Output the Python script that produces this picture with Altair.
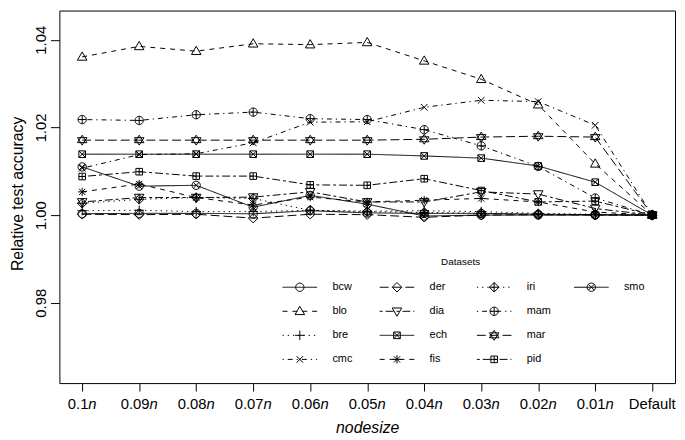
import math
import altair as alt
import pandas as pd

# ---------------- data ----------------
x_labels = ["0.1n", "0.09n", "0.08n", "0.07n", "0.06n", "0.05n",
            "0.04n", "0.03n", "0.02n", "0.01n", "Default"]
series_names = ["bcw", "blo", "bre", "cmc", "der", "dia", "ech",
                "fis", "iri", "mam", "mar", "pid", "smo"]

bcw = [1.0003, 1.0004, 1.0004, 1.0003, 1.0010, 1.0005, 1.0004, 1.0004, 1.0002, 1.0001, 1.0]
blo = [1.0361, 1.0385, 1.0374, 1.0391, 1.0389, 1.0394, 1.0352, 1.0310, 1.0252, 1.0117, 1.0]
bre = [1.0010, 1.0011, 1.0008, 1.0008, 1.0011, 1.0009, 1.0010, 1.0008, 1.0004, 1.0002, 1.0]
cmc = [1.0107, 1.0138, 1.0140, 1.0165, 1.0212, 1.0213, 1.0246, 1.0262, 1.0259, 1.0205, 1.0]
der = [1.0002, 1.0001, 1.0002, 0.9993, 1.0002, 1.0001, 0.9995, 1.0000, 1.0001, 1.0000, 1.0]
dia = [1.0030, 1.0040, 1.0040, 1.0041, 1.0053, 1.0030, 1.0030, 1.0053, 1.0048, 1.0015, 1.0]
ech = [1.0139, 1.0139, 1.0139, 1.0139, 1.0139, 1.0139, 1.0135, 1.0130, 1.0112, 1.0075, 1.0]
fis = [1.0053, 1.0071, 1.0040, 1.0023, 1.0041, 1.0030, 1.0034, 1.0038, 1.0030, 1.0007, 1.0]
iri = [1.0027, 1.0036, 1.0040, 1.0038, 1.0011, 1.0008, 1.0006, 1.0004, 1.0002, 1.0001, 1.0]
mam = [1.0218, 1.0216, 1.0229, 1.0235, 1.0220, 1.0218, 1.0195, 1.0158, 1.0111, 1.0039, 1.0]
mar = [1.0171, 1.0171, 1.0171, 1.0171, 1.0171, 1.0171, 1.0173, 1.0178, 1.0180, 1.0178, 1.0]
pid = [1.0088, 1.0099, 1.0089, 1.0089, 1.0069, 1.0068, 1.0083, 1.0056, 1.0030, 1.0032, 1.0]
smo = [1.0110, 1.0066, 1.0068, 1.0018, 1.0045, 1.0025, 0.9998, 1.0000, 1.0000, 1.0000, 1.0]

y_ticks = [0.98, 1.00, 1.02, 1.04]
legend_title = "Datasets"
x_title = "nodesize"
y_title = "Relative test accuracy"

series_values = [bcw, blo, bre, cmc, der, dia, ech, fis, iri, mam, mar, pid, smo]

rows = []
for name, vals in zip(series_names, series_values):
    for i, v in enumerate(vals):
        rows.append({"series": name, "idx": i + 1, "value": v})
df = pd.DataFrame(rows)

# ---------------- styles ----------------
FONT = "Liberation Sans"
W, H = 623, 377
PX_PER_UNIT = W / 10.8


def poly_circle(r, n=28):
    pts = []
    for k in range(n):
        a = 2 * math.pi * k / n
        pts.append(f"{r*math.cos(a):.3f},{r*math.sin(a):.3f}")
    return "M" + "L".join(pts) + "Z"


C = poly_circle(1.0)
SQ = "M-0.8,-0.8L0.8,-0.8L0.8,0.8L-0.8,0.8Z"
DIAM = "M0,-1.15L1.15,0L0,1.15L-1.15,0Z"
pch = [
    C,                                                        # 1 circle
    "M0,-1.2L1.15,0.8L-1.15,0.8Z",                            # 2 triangle up
    "M-1.15,0L1.15,0M0,-1.15L0,1.15",                         # 3 plus
    "M-0.8,-0.8L0.8,0.8M0.8,-0.8L-0.8,0.8",                   # 4 x
    DIAM,                                                     # 5 diamond
    "M0,1.2L1.15,-0.8L-1.15,-0.8Z",                           # 6 triangle down
    SQ + "M-0.8,-0.8L0.8,0.8M0.8,-0.8L-0.8,0.8",              # 7 square x
    "M-1,0L1,0M0,-1L0,1M-0.75,-0.75L0.75,0.75M0.75,-0.75L-0.75,0.75",  # 8 asterisk
    DIAM + "M-1.15,0L1.15,0M0,-1.15L0,1.15",                  # 9 diamond plus
    C + "M-1,0L1,0M0,-1L0,1",                                 # 10 circle plus
    "M0,-1.2L1.15,0.6L-1.15,0.6ZM0,1.2L1.15,-0.6L-1.15,-0.6Z",  # 11 triangles
    SQ + "M-0.8,0L0.8,0M0,-0.8L0,0.8",                        # 12 square plus
    C + "M-0.71,-0.71L0.71,0.71M0.71,-0.71L-0.71,0.71",       # 13 circle x
]
lty = [[1, 0], [5, 5], [1.3, 4], [1.3, 4, 5, 4], [9, 4], [3, 3, 8, 3]]
dashes = [lty[i % 6] for i in range(len(series_names))]

dash_enc = alt.StrokeDash("series:N", scale=alt.Scale(domain=series_names, range=dashes), legend=None)
shape_enc = alt.Shape("series:N", scale=alt.Scale(domain=series_names, range=pch), legend=None)

xscale = alt.Scale(domain=[0.6, 11.4], nice=False, zero=False)
ydom = [1 - 170 / 4435, 1 + 207 / 4435]
yscale = alt.Scale(domain=ydom, nice=False, zero=False)

x_axis = alt.Axis(values=list(range(1, 12)), labels=False, tickSize=8, tickColor="black",
                  tickWidth=1, domain=False, grid=False, title=x_title, titleFont=FONT,
                  titleFontSize=16, titleFontStyle="italic", titleFontWeight="normal",
                  titleColor="black", titleBaseline="alphabetic", titleY=50)
y_axis = alt.Axis(values=y_ticks, format=".2f", labelAngle=270, labelAlign="center",
                  labelBaseline="alphabetic", labelPadding=5, labelFont=FONT, labelFontSize=15,
                  labelColor="black", tickSize=9, tickColor="black", tickWidth=1,
                  domain=False, grid=False, title=y_title, titleFont=FONT, titleFontSize=16,
                  titleFontWeight="normal", titleColor="black", titleAngle=270,
                  titleX=-37, titleY=185, titleBaseline="alphabetic", titleAlign="center")

base = alt.Chart(df)
lines = base.mark_line(color="black", strokeWidth=1).encode(
    x=alt.X("idx:Q", scale=xscale, axis=x_axis),
    y=alt.Y("value:Q", scale=yscale, axis=y_axis),
    strokeDash=dash_enc,
    detail="series:N",
)
points = base.mark_point(filled=False, color="black", size=70, strokeWidth=1, opacity=1).encode(
    x=alt.X("idx:Q", scale=xscale, axis=None),
    y=alt.Y("value:Q", scale=yscale, axis=None),
    shape=shape_enc,
)

# x tick labels: number in roman + italic n
cw = {"0": 8.34, "1": 8.34, "2": 8.34, "3": 8.34, "4": 8.34, "5": 8.34, "6": 8.34, "7": 8.34,
      "8": 8.34, "9": 8.34, ".": 4.17, "D": 10.83, "e": 8.34, "f": 4.17, "a": 8.34, "u": 8.34,
      "l": 3.33, "t": 4.17, "n": 8.34}
tick_rows = []
for i, lab in enumerate(x_labels):
    if lab.endswith("n"):
        num, nn = lab[:-1], "n"
    else:
        num, nn = lab, ""
    wnum = sum(cw.get(ch, 8.34) for ch in num)
    wn = cw["n"] if nn else 0
    edge = (wnum + wn) / 2 - wn
    tick_rows.append({"num": num, "nn": nn, "xe": i + 1 + edge / PX_PER_UNIT})
tick_df = pd.DataFrame(tick_rows)

tick_num = alt.Chart(tick_df).mark_text(align="right", baseline="alphabetic", font=FONT,
                                         fontSize=15, color="black").encode(
    x=alt.X("xe:Q", scale=xscale, axis=None), y=alt.value(403), text="num:N")
tick_n = alt.Chart(tick_df).transform_filter("datum.nn != ''").mark_text(
    align="left", baseline="alphabetic", font=FONT, fontSize=15, fontStyle="italic",
    color="black").encode(
    x=alt.X("xe:Q", scale=xscale, axis=None), y=alt.value(403), text="nn:N")

# legend (R style, column-major, 4 rows)
leg_df = pd.DataFrame({"series": series_names,
                       "col": [i // 4 for i in range(len(series_names))],
                       "row": [i % 4 for i in range(len(series_names))]})
lx = alt.X("col:Q", scale=alt.Scale(domain=[0, 3], range=[243.3, 538.3]), axis=None)
ly = alt.Y("row:Q", scale=alt.Scale(domain=[0, 3], range=[280, 353]), axis=None)
leg = alt.Chart(leg_df)
leg_rules = leg.mark_rule(color="black", strokeWidth=1, xOffset=-17.5, x2Offset=17.5).encode(
    x=lx, x2="col:Q", y=ly, strokeDash=dash_enc)
leg_pts = leg.mark_point(filled=False, color="black", size=70, strokeWidth=1, opacity=1).encode(
    x=lx, y=ly, shape=shape_enc)
leg_txt = leg.mark_text(align="left", baseline="middle", dx=33, font=FONT, fontSize=11,
                        color="black").encode(x=lx, y=ly, text="series:N")
leg_title = alt.Chart(pd.DataFrame({"t": [legend_title]})).mark_text(
    align="center", baseline="middle", font=FONT, fontSize=10, color="black").encode(
    x=alt.value(406), y=alt.value(254), text="t:N")

chart = alt.layer(lines, points, tick_num, tick_n, leg_rules, leg_pts, leg_txt, leg_title).resolve_scale(
    x="independent", y="independent"
).properties(
    width=W, height=H,
    autosize=alt.AutoSizeParams(type="none"),
    padding={"left": 52, "top": 0, "right": 2, "bottom": 54},
    background="white",
).configure_view(stroke="black", strokeWidth=1)

chart.save("out.html", embed_options={"renderer": "svg", "actions": False})
